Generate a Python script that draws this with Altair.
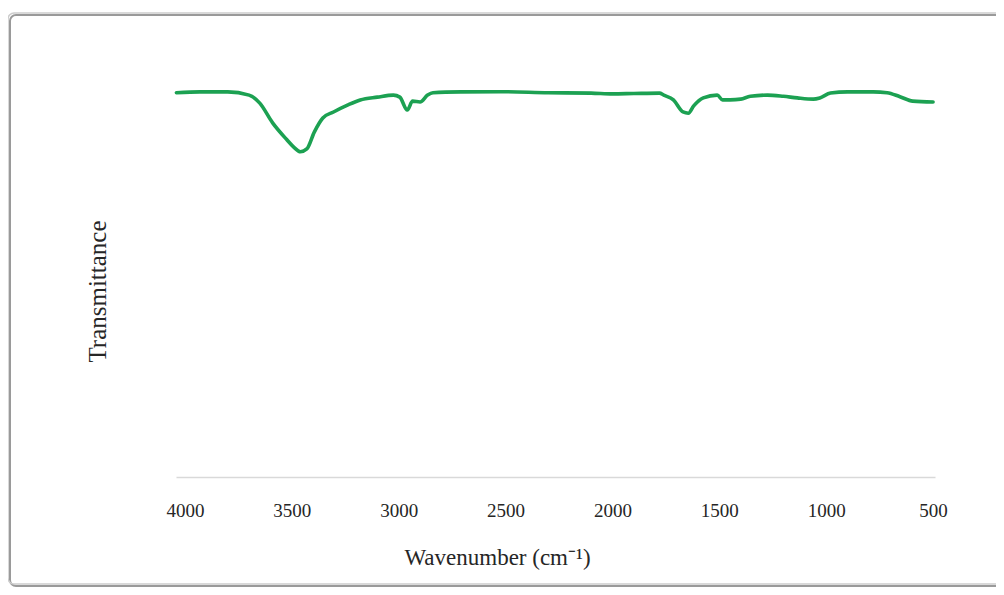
import altair as alt
import pandas as pd

# FTIR spectrum values (wavenumber in cm-1, transmittance in %)
wavenumber = [4040, 3930, 3800, 3700, 3650, 3590, 3525, 3490, 3460, 3430, 3395, 3355, 3305,
              3240, 3180, 3100, 3025, 2995, 2960, 2935, 2900, 2865, 2840, 2710, 2525,
              2300, 2100, 2000, 1900, 1780, 1760, 1715, 1670, 1645, 1620, 1575, 1510,
              1485, 1450, 1400, 1355, 1275, 1200, 1135, 1060, 1030, 980, 900, 780,
              715, 655, 595, 500]
transmittance = [95.6, 95.8, 95.8, 95.0, 93.0, 88.1, 84.0, 82.0, 80.9, 81.6, 85.8, 89.3, 90.8,
                 92.5, 93.8, 94.5, 95.0, 94.5, 91.3, 93.5, 93.3, 95.0, 95.6, 95.8, 95.85,
                 95.6, 95.5, 95.3, 95.4, 95.5, 95.0, 93.8, 90.8, 90.5, 92.3, 94.3, 95.0,
                 93.8, 93.8, 94.0, 94.7, 95.0, 94.7, 94.3, 94.0, 94.3, 95.5, 95.8, 95.8,
                 95.6, 94.6, 93.5, 93.3]
tick_values = [4000, 3500, 3000, 2500, 2000, 1500, 1000, 500]

df = pd.DataFrame({"wavenumber": wavenumber, "T": transmittance})

FONT = "Liberation Serif"

x_scale = alt.Scale(domain=[4042, 491], nice=False, zero=False)
y_scale = alt.Scale(domain=[0, 100], nice=False)

line = alt.Chart(df).mark_line(
    color="#1ca152", strokeWidth=3.6, interpolate="monotone", strokeCap="round", strokeJoin="round"
).encode(
    x=alt.X("wavenumber:Q", scale=x_scale,
            axis=alt.Axis(values=tick_values, format="d", title="Wavenumber (cm⁻¹)",
                          ticks=False, grid=False, domainColor="#d9d9d9", domainWidth=1.5,
                          labelFont=FONT, labelFontSize=19, labelColor="#262626",
                          labelPadding=24, labelFlush=False,
                          titleFont=FONT, titleFontSize=23, titleFontWeight="normal",
                          titleColor="#262626", titleX=321, titleY=80,
                          titleAlign="center", titleBaseline="middle")),
    y=alt.Y("T:Q", scale=y_scale,
            axis=alt.Axis(title="Transmittance", labels=False, ticks=False, domain=False,
                          grid=False, titleFont=FONT, titleFontSize=25,
                          titleFontWeight="normal", titleColor="#262626",
                          titleX=-79, titleY=216, titleAlign="center",
                          titleBaseline="middle")),
)

frame_df = pd.DataFrame({"k": [0]})
shadow = alt.Chart(frame_df).mark_rect(
    fill="transparent", stroke="#9a9a9a", strokeWidth=2, cornerRadius=6, clip=False
).encode(x=alt.value(-166), x2=alt.value(830), y=alt.value(-60), y2=alt.value(511))
frame = alt.Chart(frame_df).mark_rect(
    fill="transparent", stroke="#cdcdcd", strokeWidth=1.5, cornerRadius=6, clip=False
).encode(x=alt.value(-168), x2=alt.value(828), y=alt.value(-62), y2=alt.value(509))

chart = alt.layer(shadow, frame, line).properties(
    width=759, height=402,
    autosize=alt.AutoSizeParams(type="none"),
    padding={"left": 168, "top": 67, "right": 61, "bottom": 110},
    background="white",
).configure_view(stroke=None)

chart.save("out.html", embed_options={"renderer": "svg", "actions": False})
